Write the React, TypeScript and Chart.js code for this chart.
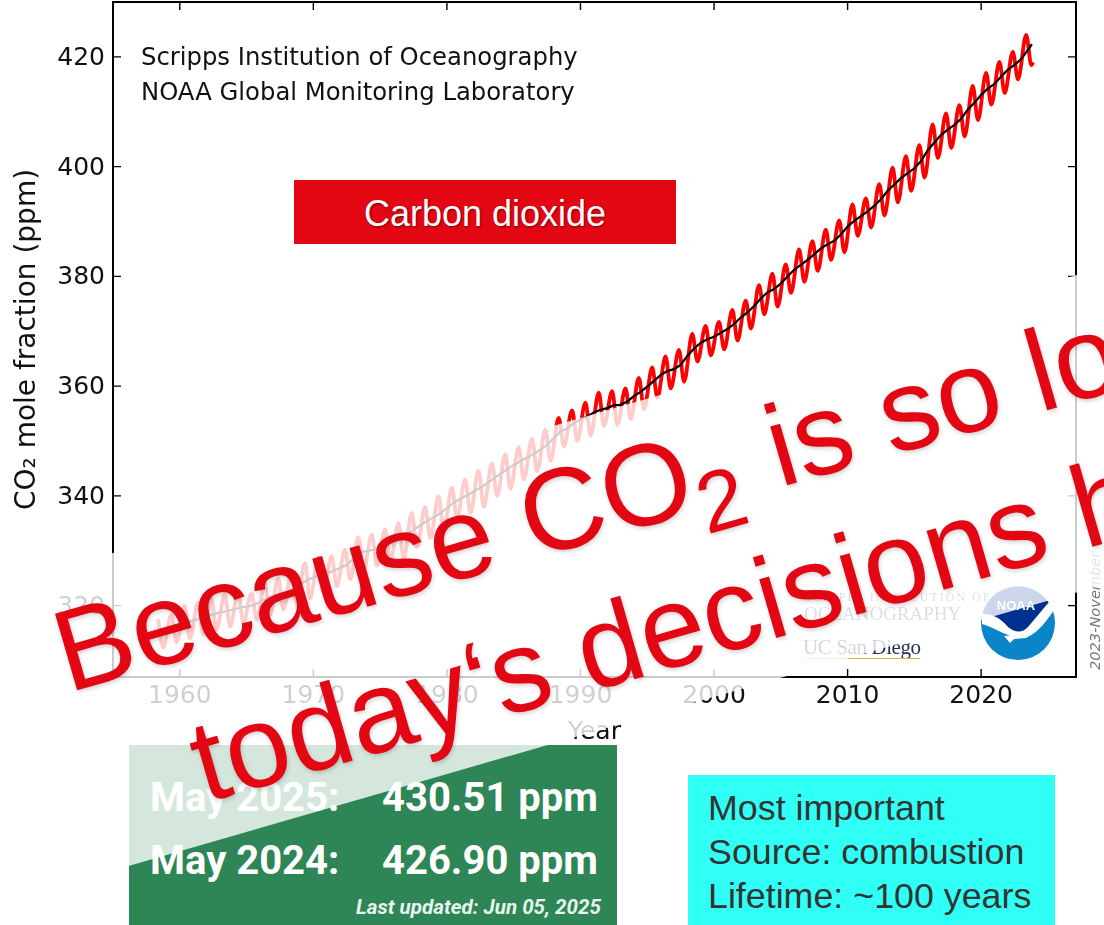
import React, { useEffect, useRef } from "react";
import { Chart, registerables } from "chart.js";

Chart.register(...registerables);

const peakYears = [1958, 1959, 1960, 1961, 1962, 1963, 1964, 1965, 1966, 1967, 1968, 1969, 1970, 1971, 1972, 1973, 1974, 1975, 1976, 1977, 1978, 1979, 1980, 1981, 1982, 1983, 1984, 1985, 1986, 1987, 1988, 1989, 1990, 1991, 1992, 1993, 1994, 1995, 1996, 1997, 1998, 1999, 2000, 2001, 2002, 2003, 2004, 2005, 2006, 2007, 2008, 2009, 2010, 2011, 2012, 2013, 2014, 2015, 2016, 2017, 2018, 2019, 2020, 2021, 2022, 2023];
const mayPeaks = [317.5, 318.3, 320.0, 320.6, 321.3, 322.2, 322.3, 322.3, 324.1, 325.0, 326.0, 327.8, 328.9, 329.0, 330.2, 332.5, 333.0, 333.9, 335.0, 336.9, 338.0, 339.9, 341.5, 343.0, 344.6, 345.9, 347.6, 348.9, 350.4, 352.0, 354.2, 355.6, 357.0, 358.8, 359.1, 359.6, 361.5, 363.4, 365.4, 366.6, 369.5, 371.0, 371.7, 373.9, 375.6, 378.4, 380.5, 382.2, 384.9, 386.4, 388.5, 390.2, 393.1, 394.2, 396.8, 399.8, 401.9, 403.9, 407.7, 409.7, 411.2, 414.7, 417.1, 419.1, 420.9, 424.0];
const autumnTroughs = [312.4, 313.3, 314.0, 314.7, 315.6, 316.2, 316.9, 317.4, 318.4, 319.3, 320.2, 321.3, 322.4, 323.5, 324.8, 326.3, 327.3, 328.0, 328.6, 330.7, 332.3, 333.6, 336.0, 336.9, 338.0, 340.0, 341.3, 343.0, 344.5, 346.4, 349.0, 350.0, 351.0, 352.7, 352.9, 354.0, 355.8, 357.9, 359.6, 360.8, 364.5, 365.6, 366.7, 368.3, 370.5, 373.1, 374.5, 377.0, 379.0, 381.0, 383.0, 384.4, 387.4, 388.9, 391.1, 393.5, 395.6, 398.0, 401.6, 403.4, 405.5, 408.5, 411.3, 413.4, 415.9, 418.5];
const trendYears = [1958.3, 1959.5, 1960.5, 1961.5, 1962.5, 1963.5, 1964.5, 1965.5, 1966.5, 1967.5, 1968.5, 1969.5, 1970.5, 1971.5, 1972.5, 1973.5, 1974.5, 1975.5, 1976.5, 1977.5, 1978.5, 1979.5, 1980.5, 1981.5, 1982.5, 1983.5, 1984.5, 1985.5, 1986.5, 1987.5, 1988.5, 1989, 1989.5, 1990, 1990.5, 1991, 1991.5, 1992, 1992.5, 1993, 1993.5, 1994, 1994.5, 1995, 1995.5, 1996, 1996.5, 1997, 1997.5, 1998, 1998.5, 1999, 1999.5, 2000, 2000.5, 2001, 2001.5, 2002, 2002.5, 2003, 2003.5, 2004, 2004.5, 2005, 2005.5, 2006, 2006.5, 2007, 2007.5, 2008, 2008.5, 2009, 2009.5, 2010, 2010.5, 2011, 2011.5, 2012, 2012.5, 2013, 2013.5, 2014, 2014.5, 2015, 2015.5, 2016, 2016.5, 2017, 2017.5, 2018, 2018.5, 2019, 2019.5, 2020, 2020.5, 2021, 2021.5, 2022, 2022.5, 2023, 2023.8];
const trendValues = [315.0, 315.98, 316.91, 317.64, 318.45, 318.99, 319.62, 320.04, 321.37, 322.18, 323.05, 324.62, 325.68, 326.32, 327.46, 329.68, 330.19, 331.13, 332.03, 333.84, 335.41, 336.84, 338.76, 340.12, 341.48, 343.15, 344.87, 346.35, 347.61, 349.31, 351.69, 352.3, 353.2, 353.9, 354.45, 355.2, 355.7, 356.0, 356.54, 356.6, 357.21, 358.2, 358.96, 359.9, 360.97, 362.0, 362.74, 363.1, 363.88, 365.5, 366.84, 367.9, 368.54, 369.0, 369.71, 370.4, 371.32, 372.5, 373.45, 374.6, 375.98, 377.1, 377.7, 378.7, 379.98, 381.2, 382.09, 383.0, 384.02, 385.1, 385.83, 386.5, 387.64, 389.1, 390.1, 391.0, 391.85, 392.9, 394.06, 395.6, 396.74, 397.9, 398.81, 399.7, 401.01, 403.0, 404.41, 405.8, 406.76, 407.6, 408.72, 410.4, 411.65, 413.1, 414.21, 415.1, 416.41, 417.7, 418.53, 419.6, 422.3];

const buildSeasonal = () => {
  const points: { x: number; y: number }[] = [];
  peakYears.forEach((year, i) => {
    points.push({ x: year + 0.37, y: mayPeaks[i] });
    points.push({ x: year + 0.76, y: autumnTroughs[i] });
  });
  points.push({ x: 2023.9, y: 419 });
  return points;
};

const insideTicks = {
  id: "insideTicks",
  afterDatasetsDraw(chart: any) {
    const { ctx, chartArea: a, scales } = chart;
    ctx.save();
    ctx.strokeStyle = "#000";
    ctx.lineWidth = 1.4;
    ctx.beginPath();
    for (const t of scales.x.ticks) {
      const p = scales.x.getPixelForValue(t.value);
      const len = t.value % 10 === 0 ? 8 : 4;
      ctx.moveTo(p, a.bottom);
      ctx.lineTo(p, a.bottom - len);
      ctx.moveTo(p, a.top);
      ctx.lineTo(p, a.top + len);
    }
    for (const t of scales.y.ticks) {
      const p = scales.y.getPixelForValue(t.value);
      const len = t.value % 20 === 0 ? 8 : 4;
      ctx.moveTo(a.left, p);
      ctx.lineTo(a.left + len, p);
      ctx.moveTo(a.right, p);
      ctx.lineTo(a.right - len, p);
    }
    ctx.stroke();
    ctx.lineWidth = 2;
    ctx.strokeRect(a.left, a.top, a.right - a.left, a.bottom - a.top);
    ctx.restore();
  },
};

const abs = (left: number, top: number, extra: React.CSSProperties = {}): React.CSSProperties => ({
  position: "absolute",
  left,
  top,
  whiteSpace: "nowrap",
  ...extra,
});

const statStyle: React.CSSProperties = { fontFamily: "Roboto", fontWeight: 700, fontSize: 40, lineHeight: "44px", color: "#fff" };

const statRow = (label: string, value: string, top: number) => (
  <>
    <div style={abs(150, top, statStyle)}>{label}</div>
    <div style={abs(382, top, statStyle)}>{value}</div>
  </>
);

export default function App() {
  const ref = useRef<HTMLCanvasElement>(null);
  useEffect(() => {
    const chart = new Chart(ref.current as HTMLCanvasElement, {
      type: "line",
      data: {
        datasets: [
          {
            label: "Monthly mean",
            data: buildSeasonal(),
            borderColor: "#ff0000",
            borderWidth: 3.8,
            pointRadius: 0,
            cubicInterpolationMode: "monotone",
            order: 2,
          },
          {
            label: "Seasonally corrected",
            data: trendYears.map((x, i) => ({ x, y: trendValues[i] })),
            borderColor: "#000000",
            borderWidth: 2.2,
            pointRadius: 0,
            order: 1,
          },
        ],
      },
      options: {
        animation: false,
        responsive: false,
        parsing: false,
        layout: { padding: { left: 0, top: 2, right: 28, bottom: 178 } },
        plugins: { legend: { display: false }, tooltip: { enabled: false } },
        scales: {
          x: {
            type: "linear",
            min: 1955,
            max: 2027.1,
            grid: { display: false, tickLength: 0 },
            border: { display: false },
            afterFit: (s: any) => {
              s.height = 70;
              s.paddingLeft = 0;
              s.paddingRight = 0;
            },
            ticks: {
              stepSize: 2,
              includeBounds: false,
              autoSkip: false,
              maxRotation: 0,
              padding: 4,
              color: "#111",
              font: { family: "DejaVu Sans", size: 25 },
              callback: (v: any) => (v % 10 === 0 ? String(v) : null),
            },
            title: {
              display: true,
              text: "Year",
              color: "#111",
              font: { family: "DejaVu Sans", size: 25 },
              padding: { top: 0, bottom: 0 },
            },
          },
          y: {
            type: "linear",
            min: 307,
            max: 430,
            grid: { display: false, tickLength: 0 },
            border: { display: false },
            afterFit: (s: any) => {
              s.width = 113;
              s.paddingTop = 0;
              s.paddingBottom = 0;
            },
            ticks: {
              stepSize: 5,
              includeBounds: false,
              autoSkip: false,
              padding: 8,
              labelOffset: 1.5,
              color: "#111",
              font: { family: "DejaVu Sans", size: 25 },
              callback: (v: any) => (v % 20 === 0 ? String(v) : null),
            },
            title: {
              display: true,
              text: "CO\u2082 mole fraction (ppm)",
              color: "#111",
              font: { family: "DejaVu Sans", size: 28 },
              padding: { top: 11, bottom: 0 },
            },
          },
        },
      },
      plugins: [insideTicks],
    } as any);
    return () => chart.destroy();
  }, []);

  return (
    <div style={{ position: "fixed", left: 0, top: 0, width: 1104, height: 925, overflow: "hidden", background: "#fff" }}>
      <canvas ref={ref} width={1104} height={925} style={{ position: "absolute", left: 0, top: 0 }} />

      <div style={abs(141, 42, { fontFamily: "DejaVu Sans", fontSize: 24.3, lineHeight: "30px", color: "#111" })}>Scripps Institution of Oceanography</div>
      <div style={abs(141, 77, { fontFamily: "DejaVu Sans", fontSize: 24.3, lineHeight: "30px", color: "#111" })}>NOAA Global Monitoring Laboratory</div>

      <div style={abs(294, 180, { width: 382, height: 64, background: "#e30613", color: "#fff", fontFamily: "Liberation Sans", fontSize: 36, lineHeight: "68px", textAlign: "center", textShadow: "1px 1px 2px rgba(0,0,0,.45)" })}>Carbon dioxide</div>

      {/* logos */}
      <div style={abs(804, 590, { fontFamily: "Liberation Serif", fontSize: 12, letterSpacing: 2, color: "#4a5a78" })}>SCRIPPS INSTITUTION OF</div>
      <div style={abs(804, 603, { fontFamily: "Liberation Serif", fontSize: 19, color: "#4a5a78" })}>OCEANOGRAPHY</div>
      <div style={abs(803, 635, { fontFamily: "Liberation Serif", fontSize: 21, letterSpacing: -0.4, color: "#1f2f55" })}>UC San Diego</div>
      <div style={abs(803, 658, { width: 117, height: 1, background: "#d9b24a" })} />
      <svg style={{ position: "absolute", left: 978, top: 583 }} width={80} height={80} viewBox="0 0 80 80">
        <circle cx={40} cy={40} r={37} fill="#0a85c9" />
        <path d="M5 30 A37 37 0 0 1 72 22 L44 52 C30 50 18 40 5 30 Z" fill="#00308f" />
        <path d="M4 31 C14 30 24 36 30 44 C38 50 44 50 50 44 L71 19 L76 27 C66 42 56 54 44 55 C30 55 16 44 4 41 Z" fill="#fff" />
        <path d="M26 53 L56 50 L48 55 L36 56 L32 60 Z" fill="#fff" />
        <text x={38} y={27} textAnchor="middle" fontFamily="Liberation Sans" fontWeight={700} fontSize={13} fill="#fff">NOAA</text>
      </svg>
      <div style={abs(1095, 670, { fontFamily: "DejaVu Sans", fontStyle: "italic", fontSize: 14.6, color: "#777", transform: "rotate(-90deg)", transformOrigin: "0 0", lineHeight: "16px", marginLeft: -8 })}>2023-November</div>

      {/* stats panel */}
      <div style={abs(129, 745, { width: 488, height: 180, background: "#2e8555" })} />
      {statRow("May 2025:", "430.51 ppm", 776)}
      {statRow("May 2024:", "426.90 ppm", 839)}
      <div style={abs(356, 896, { fontFamily: "Roboto", fontWeight: 700, fontStyle: "italic", fontSize: 20.6, lineHeight: "22px", color: "#e8f5ee" })}>Last updated: Jun 05, 2025</div>

      {/* translucent band */}
      <div style={{ position: "absolute", left: 0, top: 0, width: 1104, height: 925, background: "rgba(255,255,255,.8)", clipPath: "polygon(0px 585.6px, 1104px 267px, 1104px 584.5px, 0px 903px)" }} />

      <div style={abs(688, 775, { width: 367, height: 150, background: "#30fff5", color: "#333", fontFamily: "Liberation Sans", fontSize: 35.8, lineHeight: "44px", paddingLeft: 20, paddingTop: 11, boxSizing: "border-box" })}>
        Most important<br />Source: combustion<br />Lifetime: ~100 years
      </div>

      {/* rotated headline */}
      <svg style={{ position: "absolute", left: 0, top: 0, filter: "drop-shadow(1px 2px 2px rgba(0,0,0,.18))" }} width={1104} height={925} viewBox="0 0 1104 925">
        <g fill="#e30613" fontFamily="Liberation Sans" fontSize={116}>
          <text transform="translate(68 693) rotate(-16.1)">
            Because CO<tspan fontSize={86} dy={25}>2</tspan>
            <tspan dy={-25} dx={3}> is so lo</tspan>
          </text>
          <text transform="translate(205 803) rotate(-16.1)">today‘s decisions h</text>
        </g>
      </svg>
    </div>
  );
}
